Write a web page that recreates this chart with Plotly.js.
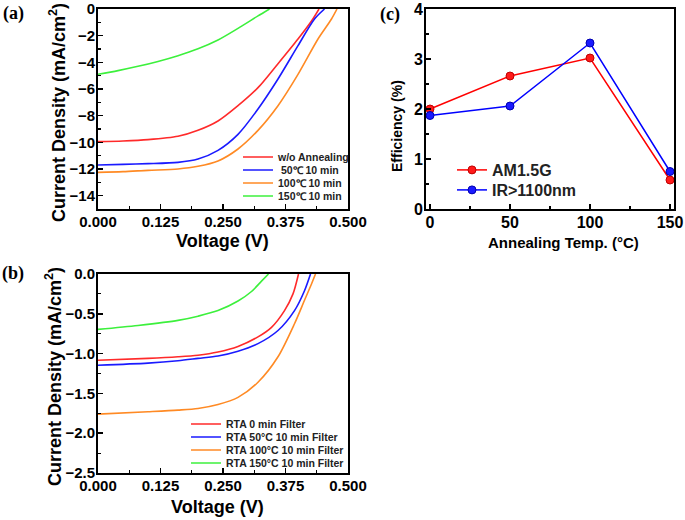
<!DOCTYPE html>
<html><head><meta charset="utf-8">
<script src="https://cdn.plot.ly/plotly-3.0.1.min.js"></script>
<style>html,body{margin:0;padding:0;background:#fff}#c{width:685px;height:520px}</style>
</head><body><div id="c"></div>
<script>
// ---- Panel (a) data: J-V under AM1.5G ----
const aNames = ['w/o Annealing', '\u00a050\u2103 10 min', '100\u2103 10 min', '150\u2103 10 min'];
const aV_red = [0, 0.05, 0.10, 0.16, 0.20, 0.24, 0.28, 0.32, 0.36, 0.40, 0.427, 0.442];
const aJ_red = [-9.95, -9.9, -9.8, -9.55, -9.1, -8.4, -7.25, -5.9, -4.1, -2.25, -0.9, 0];
const aV_blue = [0, 0.05, 0.10, 0.16, 0.20, 0.24, 0.28, 0.32, 0.36, 0.40, 0.433, 0.453];
const aJ_blue = [-11.7, -11.65, -11.6, -11.5, -11.25, -10.6, -9.4, -7.5, -5.25, -2.75, -0.75, 0];
const aV_orange = [0, 0.05, 0.10, 0.16, 0.20, 0.24, 0.28, 0.32, 0.36, 0.40, 0.44, 0.467, 0.478];
const aJ_orange = [-12.25, -12.2, -12.1, -12.0, -11.8, -11.4, -10.5, -9.1, -7.25, -4.9, -2.25, -0.75, 0];
const aV_green = [0, 0.04, 0.08, 0.12, 0.16, 0.20, 0.24, 0.28, 0.32, 0.343];
const aJ_green = [-4.9, -4.62, -4.3, -3.93, -3.5, -2.98, -2.32, -1.45, -0.52, 0];

// ---- Panel (b) data: J-V with IR filter ----
const bNames = ['RTA 0 min Filter', 'RTA 50\u00b0C 10 min Filter', 'RTA 100\u00b0C 10 min Filter', 'RTA 150\u00b0C 10 min Filter'];
const bV_red = [0, 0.10, 0.16, 0.20, 0.24, 0.28, 0.32, 0.347, 0.373, 0.39, 0.401];
const bJ_red = [-1.083, -1.06, -1.04, -1.02, -0.98, -0.91, -0.79, -0.67, -0.46, -0.25, 0];
const bV_blue = [0, 0.10, 0.16, 0.20, 0.24, 0.28, 0.32, 0.36, 0.393, 0.413, 0.425];
const bJ_blue = [-1.146, -1.12, -1.09, -1.06, -1.03, -0.97, -0.875, -0.71, -0.46, -0.21, 0];
const bV_orange = [0, 0.10, 0.16, 0.20, 0.24, 0.28, 0.32, 0.36, 0.393, 0.413, 0.427, 0.435];
const bJ_orange = [-1.76, -1.73, -1.71, -1.69, -1.64, -1.55, -1.36, -1.04, -0.625, -0.33, -0.125, 0];
const bV_green = [0, 0.08, 0.16, 0.20, 0.24, 0.28, 0.307, 0.327, 0.341];
const bJ_green = [-0.696, -0.646, -0.583, -0.53, -0.46, -0.34, -0.22, -0.09, 0];

// ---- Panel (c) data: efficiency vs annealing temperature ----
const cTemp = [0, 50, 100, 150];
const cAM15G = [2.0, 2.66, 3.02, 0.58];
const cIR = [1.87, 2.06, 3.32, 0.75];
const cNames = ['AM1.5G', 'IR>1100nm'];

const xTicksJV = [0, 0.125, 0.25, 0.375, 0.5];
const xTicksC = [0, 50, 100, 150];

const colRed = '#ff2a2a', colBlue = '#1a1aff', colOrange = '#ff8a24', colGreen = '#3cf03c';
const SANS = 'Liberation Sans, Arial, sans-serif';
const W = 685, H = 520;
const px = x => x / W, py = y => 1 - y / H;

function jv(x, y, name, color, xa, ya, leg) {
  return {x: x, y: y, name: name, type: 'scatter', mode: 'lines',
    line: {color: color, width: 1.6, shape: 'spline', smoothing: 0.8},
    xaxis: xa, yaxis: ya, legend: leg};
}

const traces = [
  jv(aV_red, aJ_red, aNames[0], colRed, 'x', 'y', 'legend'),
  jv(aV_blue, aJ_blue, aNames[1], colBlue, 'x', 'y', 'legend2'),
  jv(aV_orange, aJ_orange, aNames[2], colOrange, 'x', 'y', 'legend3'),
  jv(aV_green, aJ_green, aNames[3], colGreen, 'x', 'y', 'legend4'),
  jv(bV_red, bJ_red, bNames[0], colRed, 'x2', 'y2', 'legend5'),
  jv(bV_blue, bJ_blue, bNames[1], colBlue, 'x2', 'y2', 'legend6'),
  jv(bV_orange, bJ_orange, bNames[2], colOrange, 'x2', 'y2', 'legend7'),
  jv(bV_green, bJ_green, bNames[3], colGreen, 'x2', 'y2', 'legend8'),
  {x: cTemp, y: cAM15G, name: cNames[0], type: 'scatter', mode: 'lines+markers',
   line: {color: '#ff0000', width: 1.5}, marker: {color: '#ff1a1a', size: 8, line: {color: '#c00000', width: 1}},
   xaxis: 'x3', yaxis: 'y3', legend: 'legend9'},
  {x: cTemp, y: cIR, name: cNames[1], type: 'scatter', mode: 'lines+markers',
   line: {color: '#0000ff', width: 1.5}, marker: {color: '#1a1aff', size: 8, line: {color: '#0000b0', width: 1}},
   xaxis: 'x3', yaxis: 'y3', legend: 'legend10'}
];

function tf(s) { return {family: SANS, size: s, color: '#000', weight: 'bold'}; }
function ax(extra) {
  return Object.assign({
    showline: true, mirror: true, linewidth: 2, linecolor: '#000',
    ticks: 'inside', ticklen: 5, tickwidth: 1.5, tickcolor: '#000',
    showgrid: false, zeroline: false, tickfont: tf(15), fixedrange: true
  }, extra);
}
const minorT = (dt) => ({ticks: 'inside', ticklen: 3, tickwidth: 1.2, tickcolor: '#000', dtick: dt, tick0: 0, showgrid: false});

function leg(x, y, s) {
  return {x: px(x), y: py(y), xanchor: 'left', yanchor: 'middle', bgcolor: 'rgba(0,0,0,0)', borderwidth: 0,
    font: {family: SANS, size: s, color: '#222', weight: 'bold'}, tracegroupgap: 0, itemwidth: 30};
}

function ann(text, x, y, size, angle, family) {
  return {text: text, x: px(x), y: py(y), xref: 'paper', yref: 'paper', showarrow: false,
    textangle: angle || 0, xanchor: 'center', yanchor: 'middle',
    font: {family: family || SANS, size: size, color: '#000', weight: 'bold'}};
}
const SERIF = 'Liberation Serif, Times New Roman, serif';

const layout = {
  width: W, height: H, margin: {l: 0, r: 0, t: 0, b: 0},
  paper_bgcolor: '#fff', plot_bgcolor: '#fff', showlegend: true,
  xaxis: ax({domain: [px(98), px(348)], anchor: 'y', range: [0, 0.5], tickvals: xTicksJV, tickformat: '.3f', minor: minorT(0.0625), ticklabelstandoff: -2}),
  yaxis: ax({domain: [py(209), py(9)], anchor: 'x', range: [-15, 0], dtick: 2, tick0: 0, minor: minorT(1), ticklabelstandoff: -2}),
  xaxis2: ax({domain: [px(98), px(348)], anchor: 'y2', range: [0, 0.5], tickvals: xTicksJV, tickformat: '.3f', minor: minorT(0.0625), ticklabelstandoff: -2}),
  yaxis2: ax({domain: [py(473), py(274)], anchor: 'x2', range: [-2.5, 0], dtick: 0.5, tick0: 0, tickformat: '.1f', minor: minorT(0.25), ticklabelstandoff: -2}),
  xaxis3: ax({domain: [px(426), px(674)], anchor: 'y3', range: [-2.5, 152.5], tickvals: xTicksC, minor: minorT(25), tickfont: tf(16), ticklabelstandoff: -2}),
  yaxis3: ax({domain: [py(209), py(9)], anchor: 'x3', range: [0, 4], dtick: 1, tick0: 0, minor: minorT(0.5), tickfont: tf(16), ticklabelstandoff: -2}),
  legend: leg(238, 157, 10.5),
  legend2: leg(238, 170, 10.5),
  legend3: leg(238, 183, 10.5),
  legend4: leg(238, 196, 10.5),
  legend5: leg(186, 424, 10.5),
  legend6: leg(186, 437, 10.5),
  legend7: leg(186, 450, 10.5),
  legend8: leg(186, 463, 10.5),
  legend9: leg(452, 170, 16),
  legend10: leg(452, 190, 16),
  annotations: [
    ann('(a)', 13, 13, 18, 0, SERIF),
    ann('(b)', 13, 273, 18, 0, SERIF),
    ann('(c)', 390, 14, 18, 0, SERIF),
    ann('Current Density (mA/cm<sup>2</sup>)', 57, 113, 18, -90),
    ann('Current Density (mA/cm<sup>2</sup>)', 53, 377, 18, -90),
    ann('Voltage (V)', 222, 241, 18),
    ann('Voltage (V)', 217, 507, 18),
    ann('Efficiency (%)', 397, 126, 14, -90),
    ann('Annealing Temp. (\u00b0C)', 563, 242, 15)
  ]
};

Plotly.newPlot('c', traces, layout, {displayModeBar: false, staticPlot: true});
</script>
</body></html>
